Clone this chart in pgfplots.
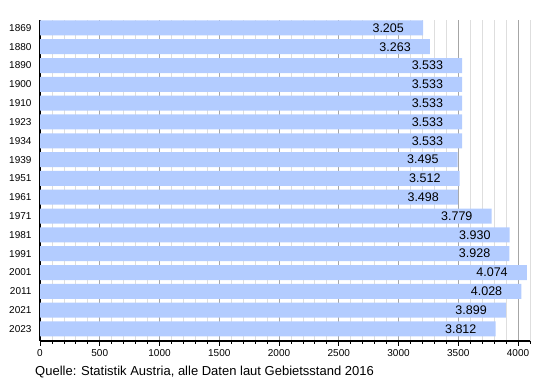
\documentclass[border=0pt]{standalone}
\usepackage{pgfplots}
\pgfplotsset{compat=1.18}
\usepackage{fontspec}
\setmainfont{Liberation Sans}
\definecolor{barblue}{RGB}{179,204,255}
\pgfplotstableread{
y val
16 3205
15 3263
14 3533
13 3533
12 3533
11 3533
10 3533
9 3495
8 3512
7 3498
6 3779
5 3930
4 3928
3 4074
2 4028
1 3899
0 3812
}\datatable
\begin{document}
\begin{tikzpicture}[x=1pt,y=1pt]
\path[use as bounding box] (0,0) rectangle (550,380);
\begin{axis}[
  at={(40pt,39pt)}, anchor=south west,
  scale only axis, width=490pt, height=321pt,
  xbar, bar width=15pt,
  xmin=0, xmax=4100,
  ymin=-0.64, ymax=16.42,
  axis x line*=bottom, axis y line*=left,
  axis line style={line width=1.2pt, black},
  xtick={0,500,...,4000},
  minor xtick={100,200,...,4100},
  ytick={0,...,16},
  yticklabels={2023,2021,2011,2001,1991,1981,1971,1961,1951,1939,1934,1923,1910,1900,1890,1880,1869},
  ytick style={draw=none},
  tick align=outside,
  major tick length=5pt, minor tick length=3pt,
  xtick style={black, line width=0.8pt},
  minor tick style={black, line width=0.8pt},
  xmajorgrids, xminorgrids,
  major grid style={color=black!35, line width=0.8pt},
  minor grid style={color=black!13, line width=0.8pt},
  ticklabel style={font=\fontsize{10}{12}\selectfont},
  /pgf/number format/assume math mode=true,
  xticklabel style={/pgf/number format/1000 sep={}},
  point meta=x,
  nodes near coords={\pgfmathprintnumber[1000 sep={.},assume math mode=true]{\pgfplotspointmeta}},
  nodes near coords style={anchor=east, inner sep=0pt, xshift=-19pt, font=\fontsize{12.5}{14}\selectfont, black},
  clip=false,
]
\addplot[fill=barblue, draw=none] table[x=val, y=y] {\datatable};
\end{axis}
\node[anchor=base west, font=\fontsize{13}{15}\selectfont, inner sep=0pt] at (35,4) {Quelle: Statistik Austria, alle Daten laut Gebietsstand 2016};
\end{tikzpicture}
\end{document}
